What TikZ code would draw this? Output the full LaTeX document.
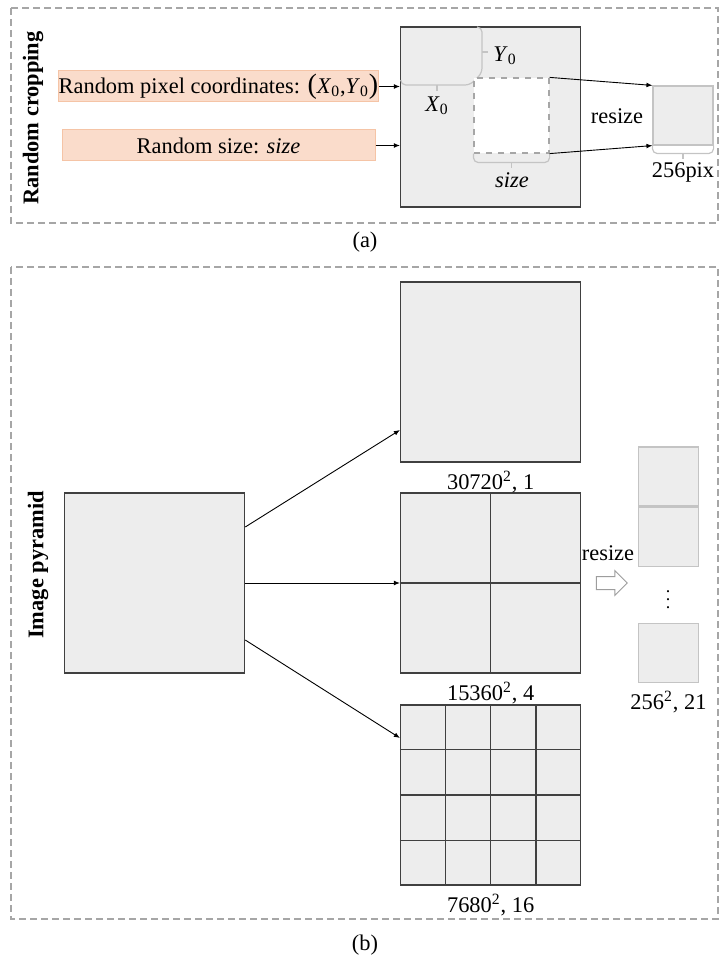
\documentclass[tikz,border=0pt]{standalone}
\usepackage{fontspec}
\setmainfont{Liberation Serif}
\usetikzlibrary{arrows.meta,calc,positioning,shapes.arrows}
\definecolor{PanelGrey}{HTML}{A6A6A6}
\definecolor{TileFill}{HTML}{EDEDED}
\definecolor{TileEdge}{HTML}{404040}
\definecolor{SoftEdge}{HTML}{C4C4C4}
\definecolor{PeachFill}{HTML}{FADCCB}
\definecolor{PeachEdge}{HTML}{F5C4A6}

\begin{document}
\begin{tikzpicture}[x=0.5pt,y=-0.5pt,
    font=\fontsize{11.2}{13}\selectfont,
    panel/.style={draw=PanelGrey,dash pattern=on 3.5pt off 2pt,line width=0.6pt},
    tile/.style={draw=TileEdge,fill=TileFill,line width=0.75pt,minimum width=90pt,minimum height=90pt,inner sep=0pt},
    minitile/.style={draw=SoftEdge,fill=TileFill,line width=0.6pt,minimum width=30pt,minimum height=29.5pt,inner sep=0pt},
    peach/.style={fill=PeachFill,draw=PeachEdge,line width=0.5pt,minimum width=156.5pt,minimum height=15.5pt,inner sep=0pt},
    soft/.style={draw=SoftEdge,line width=0.6pt},
    gridline/.style={draw=TileEdge,line width=0.6pt},
    arr/.style={-{Latex[length=3pt,width=2.4pt]},line width=0.45pt},
    sidetitle/.style={rotate=90,font=\fontsize{11.2}{13}\selectfont\bfseries}]
  \useasboundingbox (0,0) rectangle (720,962);

  % (a) random cropping
  \draw[panel] (11,8) rectangle (718,223);
  \node[sidetitle] (croptitle) at (33,118) {Random cropping};
  \node[peach] (pix) at (218.5,86.5) {Random pixel coordinates: {\fontsize{14}{14}\selectfont(}\textit{X}\textsubscript{0},\textit{Y}\textsubscript{0}{\fontsize{14}{14}\selectfont)}};
  \node[peach] (size) at (218.5,145.5) {Random size: \textit{size}};
  \node[tile] (src) at (490.7,117) {};
  \draw[soft,rounded corners=2.5pt] (400.7,80) -- (400.7,85) -- (470,85) -- (482,73) -- (482,27) -- (477,27);
  \draw[soft] (482,52) -- (488,52);
  \node[anchor=west,inner sep=1pt] (ylab) at (491,56) {\textit{Y}\textsubscript{0}};
  \draw[soft] (437,85) -- (437,91);
  \node (xlab) at (437,106) {\textit{X}\textsubscript{0}};
  \node[draw=PanelGrey,dashed,fill=white,line width=0.6pt,minimum size=37.5pt,inner sep=0pt] (crop) at (511.5,115.5) {};
  \draw[soft,rounded corners=2.5pt] (crop.south west) -- ++(0,9) -- ($(crop.south east)+(0,9)$) -- (crop.south east);
  \draw[soft] ($(crop.south)+(0,9)$) -- ++(0,5);
  \node (sizelab) at (512,180) {\textit{size}};
  \node[minitile] (out) at (683,115.5) {};
  \draw[soft,rounded corners=2.5pt] (out.south west) -- ++(0,8) -- ($(out.south east)+(0,8)$) -- (out.south east);
  \draw[soft] ($(out.south)+(0,8)$) -- ++(0,5);
  \node (pixlab) at (683,172) {256pix};
  \node (rsza) at (617,116) {resize};
  \draw[arr] (pix.east) -- (src.west |- pix.east);
  \draw[arr] (size.east) -- (src.west |- size.east);
  \draw[arr] (crop.north east) -- (out.north west);
  \draw[arr] (crop.south east) -- (out.south west);
  \node (capa) at (365,242) {(a)};

  % (b) image pyramid
  \draw[panel] (11,267) rectangle (718,919);
  \node[sidetitle] (pyrtitle) at (38,565) {Image pyramid};
  \node[tile] (base) at (154.5,583) {};
  \node[tile] (lvl1) at (490.7,372) {};
  \node[tile] (lvl2) at (490.7,583) {};
  \node[tile] (lvl3) at (490.7,795) {};
  \draw[gridline] (lvl2.north) -- (lvl2.south) (lvl2.west) -- (lvl2.east);
  \foreach \k in {1,2,3} {
    \draw[gridline] ($(lvl3.north west)!\k/4!(lvl3.north east)$) -- ($(lvl3.south west)!\k/4!(lvl3.south east)$);
    \draw[gridline] ($(lvl3.north west)!\k/4!(lvl3.south west)$) -- ($(lvl3.north east)!\k/4!(lvl3.south east)$);
  }
  \node[below=0.5pt of lvl1] (lab1) {30720\textsuperscript{2}, 1};
  \node[below=0.5pt of lvl2] (lab2) {15360\textsuperscript{2}, 4};
  \node[below=0.5pt of lvl3] (lab3) {7680\textsuperscript{2}, 16};
  \draw[arr] ([yshift=28pt]base.east) -- ([yshift=-29pt]lvl1.west);
  \draw[arr] (base.east) -- (lvl2.west);
  \draw[arr] ([yshift=-28.5pt]base.east) -- ([yshift=28.5pt]lvl3.west);
  \node (rszb) at (608,553) {resize};
  \node[single arrow,draw=SoftEdge!80!black,fill=white,line width=0.5pt,inner sep=3pt,minimum width=12pt,minimum height=15.5pt,single arrow head extend=3pt] (hollow) at (608.5,583) {};
  \node[minitile] (tileA) at (668.5,476.5) {};
  \node[minitile,below=0pt of tileA] (tileB) {};
  \node[font=\fontsize{9}{9}\selectfont,inner sep=0pt] (vdots) at (668,594) {$\vdots$};
  \node[minitile] (tileC) at (668.5,653) {};
  \node[below=0.5pt of tileC] (lab4) {256\textsuperscript{2}, 21};
  \node (capb) at (365,945) {(b)};
\end{tikzpicture}
\end{document}
